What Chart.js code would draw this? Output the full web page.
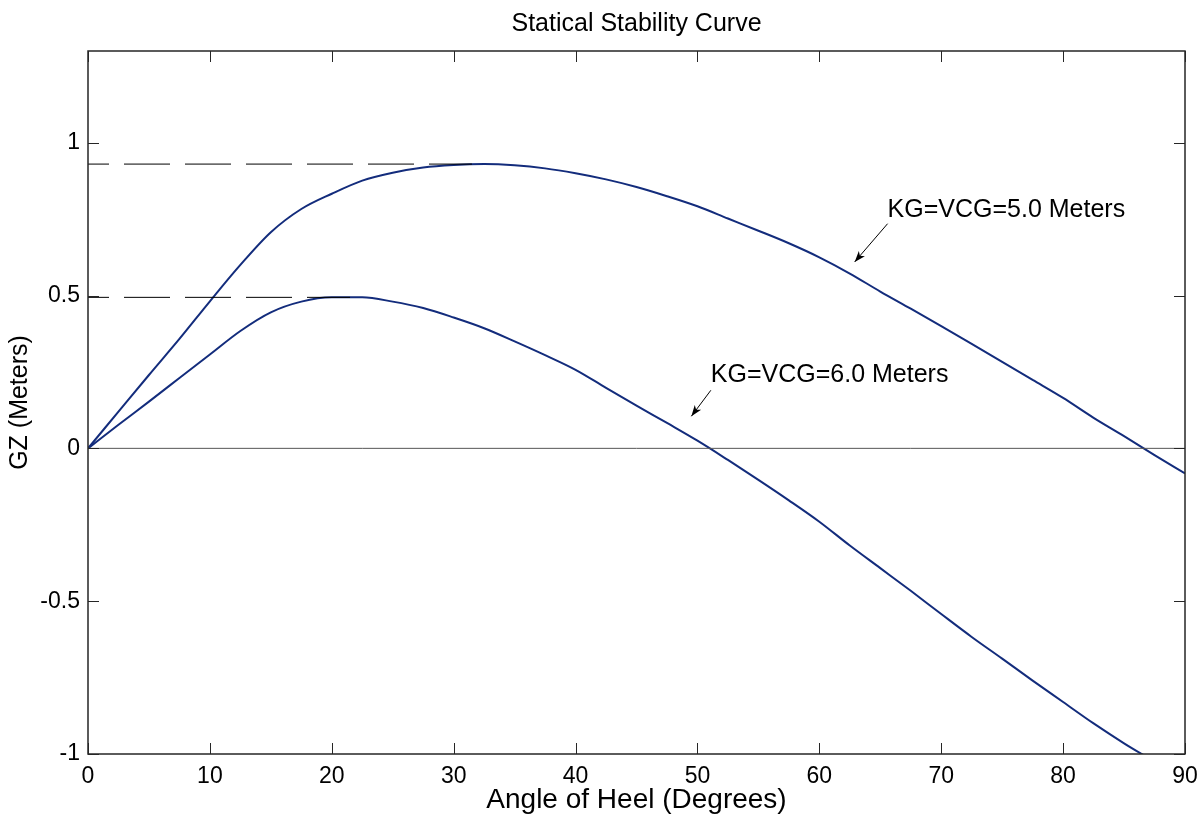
<!DOCTYPE html>
<html>
<head>
<meta charset="utf-8">
<title>Statical Stability Curve</title>
<script src="https://cdn.jsdelivr.net/npm/chart.js@4.4.0/dist/chart.umd.min.js"></script>
<style>
  html, body { margin: 0; padding: 0; background: #fff; }
  #wrap { width: 1204px; height: 814px; }
</style>
</head>
<body>
<div id="wrap"><canvas id="gzChart" width="1204" height="814"></canvas></div>
<script>
// heel angle (deg) and GZ (m)
const heelAngles = [0, 2.5, 5, 7.5, 10, 12.5, 15, 17.5, 20, 22.5, 25, 27.5, 30, 32.5, 35, 37.5, 40, 42.5, 45,
  47.5, 50, 52.5, 55, 57.5, 60, 62.5, 65, 67.5, 70, 72.5, 75, 77.5, 80, 82.5, 85, 87.5, 90];
const gzKg5 = [0, 0.12, 0.24, 0.358, 0.481, 0.60, 0.707, 0.783, 0.833, 0.876, 0.902, 0.919, 0.927, 0.930, 0.926,
  0.916, 0.900, 0.880, 0.855, 0.825, 0.792, 0.752, 0.712, 0.671, 0.625, 0.572, 0.513, 0.457, 0.400, 0.342, 0.283,
  0.224, 0.165, 0.100, 0.040, -0.022, -0.082];
const gzKg6 = [0, 0.077, 0.153, 0.230, 0.307, 0.384, 0.445, 0.480, 0.494, 0.494, 0.480, 0.459, 0.428, 0.393, 0.350,
  0.305, 0.257, 0.198, 0.140, 0.083, 0.025, -0.038, -0.103, -0.170, -0.240, -0.318, -0.392, -0.466, -0.542, -0.617,
  -0.688, -0.760, -0.830, -0.900, -0.965, -1.025, null];

const xTicks = [0, 10, 20, 30, 40, 50, 60, 70, 80, 90];
const yTicks = [-1, -0.5, 0, 0.5, 1];

// max GZ reference lines: [value, angle where it meets the curve]
const maxLine5 = [0.93, 31.5];
const maxLine6 = [0.494, 21.5];

// labels with arrows (data units): text position, arrow start, arrow tip
const labelTexts = ['KG=VCG=5.0 Meters', 'KG=VCG=6.0 Meters'];
const labelAt = [[65.6, 0.78], [51.1, 0.24]];
const arrowFrom = [[65.6, 0.735], [51.1, 0.19]];
const arrowTo = [[62.9, 0.61], [49.5, 0.105]];

const FONT = "'Liberation Sans', Arial, sans-serif";
const NAVY = '#132c7c';

const pts = (ys) => heelAngles.map((a, i) => ({ x: a, y: ys[i] }));

const framePlugin = {
  id: 'frame',
  afterDatasetsDraw(chart) {
    const { ctx, chartArea: a, scales: { x, y } } = chart;
    ctx.save();
    // box
    ctx.strokeStyle = '#262626';
    ctx.lineWidth = 1.5;
    ctx.strokeRect(a.left, a.top, a.right - a.left, a.bottom - a.top);
    // inward ticks on all sides
    ctx.lineWidth = 1;
    ctx.beginPath();
    xTicks.forEach(v => {
      const px = Math.round(x.getPixelForValue(v)) + 0.5;
      ctx.moveTo(px, a.bottom); ctx.lineTo(px, a.bottom - 11);
      ctx.moveTo(px, a.top); ctx.lineTo(px, a.top + 11);
    });
    yTicks.forEach(v => {
      const py = Math.round(y.getPixelForValue(v)) + 0.5;
      ctx.moveTo(a.left, py); ctx.lineTo(a.left + 11, py);
      ctx.moveTo(a.right, py); ctx.lineTo(a.right - 11, py);
    });
    ctx.stroke();

    // annotations
    ctx.fillStyle = '#000';
    ctx.strokeStyle = '#000';
    ctx.font = '25px ' + FONT;
    ctx.textBaseline = 'middle';
    ctx.textAlign = 'left';
    labelTexts.forEach((t, i) => {
      ctx.fillText(t, x.getPixelForValue(labelAt[i][0]), y.getPixelForValue(labelAt[i][1]));
      const x0 = x.getPixelForValue(arrowFrom[i][0]), y0 = y.getPixelForValue(arrowFrom[i][1]);
      const x1 = x.getPixelForValue(arrowTo[i][0]), y1 = y.getPixelForValue(arrowTo[i][1]);
      const ang = Math.atan2(y1 - y0, x1 - x0);
      ctx.beginPath();
      ctx.moveTo(x0, y0); ctx.lineTo(x1, y1);
      ctx.stroke();
      ctx.beginPath();
      ctx.moveTo(x1, y1);
      ctx.lineTo(x1 - 11 * Math.cos(ang) + 4 * Math.sin(ang), y1 - 11 * Math.sin(ang) - 4 * Math.cos(ang));
      ctx.lineTo(x1 - 8 * Math.cos(ang), y1 - 8 * Math.sin(ang));
      ctx.lineTo(x1 - 11 * Math.cos(ang) - 4 * Math.sin(ang), y1 - 11 * Math.sin(ang) + 4 * Math.cos(ang));
      ctx.closePath();
      ctx.fill();
    });

    // title
    ctx.font = '25px ' + FONT;
    ctx.textAlign = 'center';
    ctx.fillText('Statical Stability Curve', (a.left + a.right) / 2, 24);
    ctx.restore();
  }
};

new Chart(document.getElementById('gzChart'), {
  type: 'line',
  data: {
    datasets: [
      {
        label: 'zero',
        data: [{ x: 0, y: 0 }, { x: 90, y: 0 }],
        borderColor: '#555',
        borderWidth: 1,
        pointRadius: 0
      },
      {
        label: 'max GZ 5.0',
        data: [{ x: 0, y: maxLine5[0] }, { x: maxLine5[1], y: maxLine5[0] }],
        borderColor: '#000',
        borderWidth: 1,
        borderDash: [46, 15],
        borderDashOffset: 25,
        pointRadius: 0
      },
      {
        label: 'max GZ 6.0',
        data: [{ x: 0, y: maxLine6[0] }, { x: maxLine6[1], y: maxLine6[0] }],
        borderColor: '#000',
        borderWidth: 1,
        borderDash: [46, 15],
        borderDashOffset: 25,
        pointRadius: 0
      },
      {
        label: 'KG=VCG=5.0 Meters',
        data: pts(gzKg5),
        borderColor: NAVY,
        borderWidth: 2,
        pointRadius: 0,
        cubicInterpolationMode: 'monotone'
      },
      {
        label: 'KG=VCG=6.0 Meters',
        data: pts(gzKg6),
        borderColor: NAVY,
        borderWidth: 2,
        pointRadius: 0,
        cubicInterpolationMode: 'monotone'
      }
    ]
  },
  options: {
    responsive: false,
    animation: false,
    layout: { padding: { top: 51, right: 19, left: 0, bottom: 0 } },
    plugins: {
      legend: { display: false },
      tooltip: { enabled: false }
    },
    scales: {
      x: {
        type: 'linear',
        min: 0,
        max: 90,
        afterBuildTicks: s => { s.ticks = xTicks.map(v => ({ value: v })); },
        afterFit: s => { s.height = 60; },
        grid: { display: false },
        border: { display: false },
        ticks: { color: '#000', padding: 1, maxRotation: 0, font: { family: FONT, size: 23 }, callback: v => String(v) },
        title: {
          display: true,
          text: 'Angle of Heel (Degrees)',
          color: '#000',
          font: { family: FONT, size: 28, lineHeight: 1 },
          padding: { top: 0, bottom: 0 }
        }
      },
      y: {
        type: 'linear',
        min: -1,
        max: 1.3,
        afterBuildTicks: s => { s.ticks = yTicks.map(v => ({ value: v })); },
        afterFit: s => { s.width = 88; },
        grid: { display: false },
        border: { display: false },
        ticks: { color: '#000', padding: 0, font: { family: FONT, size: 23 }, callback: v => String(v) },
        title: {
          display: true,
          text: 'GZ (Meters)',
          color: '#000',
          font: { family: FONT, size: 25, lineHeight: 1 },
          padding: { top: 8, bottom: 0 }
        }
      }
    }
  },
  plugins: [framePlugin]
});
</script>
</body>
</html>
